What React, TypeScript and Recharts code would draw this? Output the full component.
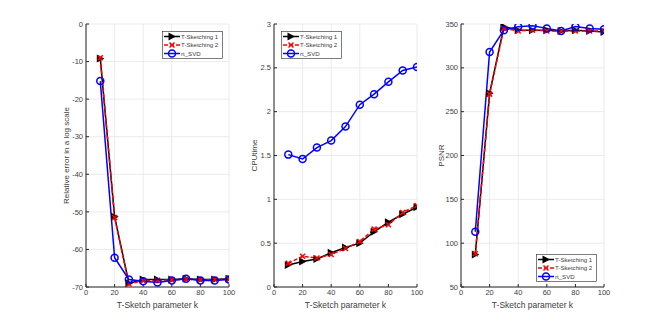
import React from 'react';
import { LineChart, Line, XAxis, YAxis, CartesianGrid, Legend } from 'recharts';

const kValues = [10, 20, 30, 40, 50, 60, 70, 80, 90, 100];

const errTS1 = [-9.2, -51.3, -69, -68, -68, -68, -67.8, -68, -68, -67.8];
const errTS2 = [-9.0, -51.5, -69.2, -68.3, -68.2, -68.1, -67.9, -68.1, -68, -67.9];
const errRt = [-15.2, -62.2, -68, -68.5, -68.8, -68.3, -67.8, -68.3, -68.3, -68];

const cpuTS1 = [0.25, 0.29, 0.32, 0.39, 0.45, 0.5, 0.63, 0.74, 0.83, 0.91];
const cpuTS2 = [0.27, 0.35, 0.33, 0.37, 0.44, 0.52, 0.66, 0.71, 0.85, 0.93];
const cpuRt = [1.51, 1.46, 1.59, 1.67, 1.83, 2.08, 2.2, 2.34, 2.47, 2.51];

const psnrTS1 = [87, 271, 347, 343, 343, 343, 342, 343, 342, 341];
const psnrTS2 = [88, 270, 345, 342, 343, 342, 342, 342, 342, 342];
const psnrRt = [113, 318, 343, 347, 348, 345, 342, 347, 345, 344];

const xTicks = [0, 20, 40, 60, 80, 100];
const errTicks = [-70, -60, -50, -40, -30, -20, -10, 0];
const cpuTicks = [0, 0.5, 1, 1.5, 2, 2.5, 3];
const psnrTicks = [50, 100, 150, 200, 250, 300, 350];

const seriesNames = ['T-Sketching 1', 'T-Sketching 2', 'rt_SVD'];
const xLabel = 'T-Sketch parameter k';

const FONT = 'Liberation Sans, Arial, sans-serif';
const AXIS = '#262626';
const TEXT = '#404040';

const build = (a: number[], b: number[], c: number[]) =>
  kValues.map((k, i) => ({ k, s1: a[i], s2: b[i], s3: c[i] }));

const TriDot = (p: any) => {
  const { cx, cy } = p;
  if (cx == null || cy == null) return null;
  return <polygon points={`${cx - 3.5},${cy - 4} ${cx + 4},${cy} ${cx - 3.5},${cy + 4}`} fill="#000" />;
};
const XDot = (p: any) => {
  const { cx, cy } = p;
  if (cx == null || cy == null) return null;
  const s = 2.5;
  return (
    <g stroke="#ff0000" strokeWidth={1.5}>
      <line x1={cx - s} y1={cy - s} x2={cx + s} y2={cy + s} />
      <line x1={cx - s} y1={cy + s} x2={cx + s} y2={cy - s} />
    </g>
  );
};
const ODot = (p: any) => {
  const { cx, cy } = p;
  if (cx == null || cy == null) return null;
  return <circle cx={cx} cy={cy} r={3.5} stroke="#0000ff" strokeWidth={1.5} fill="none" />;
};

const LegendBox = () => {
  const rowH = 8.5;
  return (
    <svg width={61} height={28} style={{ display: 'block' }}>
      <rect x={0.5} y={0.5} width={60} height={27} fill="#fff" stroke={AXIS} strokeWidth={0.6} />
      {seriesNames.map((n, i) => {
        const y = 5.5 + i * rowH;
        return (
          <g key={n}>
            {i === 0 && <line x1={2} x2={18} y1={y} y2={y} stroke="#000" strokeWidth={1.5} />}
            {i === 1 && <line x1={2} x2={18} y1={y} y2={y} stroke="#ff0000" strokeWidth={1.5} strokeDasharray="4 2" />}
            {i === 2 && <line x1={2} x2={18} y1={y} y2={y} stroke="#0000ff" strokeWidth={1.5} />}
            {i === 0 && <TriDot cx={10} cy={y} />}
            {i === 1 && <XDot cx={10} cy={y} />}
            {i === 2 && <ODot cx={10} cy={y} />}
            <text x={19} y={y + 2.2} fontSize={6.1} fontFamily={FONT} fill={TEXT}>{n}</text>
          </g>
        );
      })}
    </svg>
  );
};

type PanelProps = {
  left: number;
  data: any[];
  yDomain: [number, number];
  yTicks: number[];
  yLabel: string;
  legendPos: { left: number; top: number };
};

const Panel = ({ left, data, yDomain, yTicks, yLabel, legendPos }: PanelProps) => {
  const yLab = (props: any) => {
    const vb = props.viewBox;
    const x = vb.x + 20;
    const y = 155.5;
    return (
      <text x={x} y={y} transform={`rotate(-90 ${x} ${y})`} textAnchor="middle" dominantBaseline="central"
        fontSize={8} fontFamily={FONT} fill={TEXT}>{yLabel}</text>
    );
  };
  const xLab = (props: any) => {
    const vb = props.viewBox;
    return (
      <text x={vb.x + vb.width / 2} y={308} textAnchor="middle" fontSize={8.5} fontFamily={FONT} fill={TEXT}>{xLabel}</text>
    );
  };
  const tickStyle = { fontSize: 7.5, fontFamily: FONT, fill: TEXT };
  return (
    <div style={{ position: 'absolute', left, top: 0 }}>
      <LineChart width={190} height={323} data={data} margin={{ top: 24, right: 7, bottom: 16, left: 0 }}>
        <CartesianGrid stroke="#e6e6e6" strokeWidth={0.8} />
        <XAxis dataKey="k" type="number" domain={[0, 100]} ticks={xTicks} height={20}
          stroke={AXIS} tickSize={-3} tickMargin={6} tick={tickStyle} label={xLab} allowDataOverflow />
        <YAxis type="number" domain={yDomain} ticks={yTicks} width={40} stroke={AXIS}
          tickSize={-3} tickMargin={6} tick={tickStyle} label={yLab} allowDataOverflow interval={0} />
        <XAxis xAxisId="top" orientation="top" dataKey="k" type="number" domain={[0, 100]} ticks={xTicks}
          height={0} stroke={AXIS} tickSize={-3} tickFormatter={() => ''} />
        <YAxis yAxisId="right" orientation="right" type="number" domain={yDomain} ticks={yTicks}
          width={0} stroke={AXIS} tickSize={-3} tickFormatter={() => ''} interval={0} />
        <Line dataKey="s1" stroke="#000" strokeWidth={1.5} dot={<TriDot />} activeDot={false} isAnimationActive={false} />
        <Line dataKey="s2" stroke="#ff0000" strokeWidth={1.5} strokeDasharray="4 2" dot={<XDot />} activeDot={false} isAnimationActive={false} />
        <Line dataKey="s3" stroke="#0000ff" strokeWidth={1.5} dot={<ODot />} activeDot={false} isAnimationActive={false} />
        <Legend layout="vertical" align="center" verticalAlign="middle" content={() => <LegendBox />}
          wrapperStyle={{ position: 'absolute', left: legendPos.left, top: legendPos.top, width: 61, height: 28 }} />
      </LineChart>
    </div>
  );
};

export default function App() {
  return (
    <div style={{ position: 'absolute', left: 0, top: 0, width: 667, height: 323, background: '#fff', overflow: 'hidden' }}>
      <Panel left={46} data={build(errTS1, errTS2, errRt)} yDomain={[-70, 0]} yTicks={errTicks}
        yLabel="Relative error in a log scale" legendPos={{ left: 116, top: 31 }} />
      <Panel left={234} data={build(cpuTS1, cpuTS2, cpuRt)} yDomain={[0, 3]} yTicks={cpuTicks}
        yLabel="CPUtime" legendPos={{ left: 47, top: 31 }} />
      <Panel left={421} data={build(psnrTS1, psnrTS2, psnrRt)} yDomain={[50, 350]} yTicks={psnrTicks}
        yLabel="PSNR" legendPos={{ left: 115, top: 254 }} />
    </div>
  );
}
